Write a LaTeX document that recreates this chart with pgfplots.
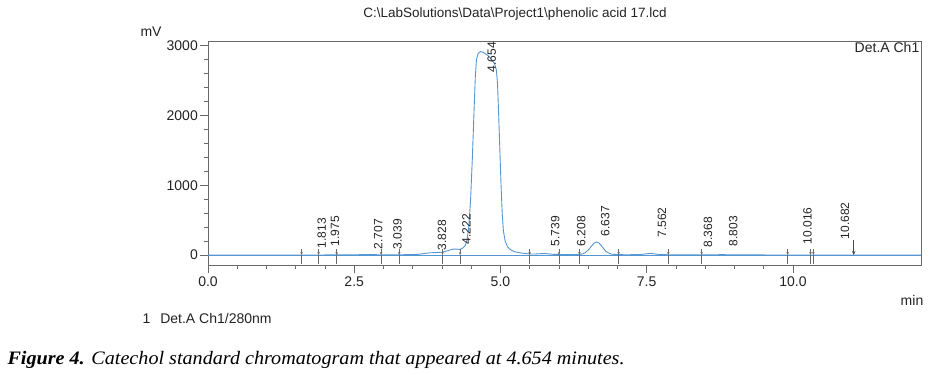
\documentclass[border=0pt]{standalone}
\usepackage{pgfplots}
\pgfplotsset{compat=1.18}
\usepackage{fontspec}
\setmainfont{Liberation Sans}
\newfontfamily\capfont[FakeStretch=1.06]{Liberation Serif}
\usetikzlibrary{arrows.meta}
\definecolor{trace}{RGB}{85,150,210}
\definecolor{axgray}{RGB}{105,105,105}
\definecolor{txt}{RGB}{35,35,35}
\begin{document}
\begin{tikzpicture}
\path[use as bounding box] (0,0) rectangle (929bp,375bp);
\begin{axis}[
  at={(208bp,110bp)}, anchor=south west,
  scale only axis, width=713bp, height=224bp,
  xmin=0, xmax=12.19, ymin=-143, ymax=3066,
  xtick={0,2.5,5,7.5,10}, minor x tick num=4,
  ytick={0,1000,2000,3000}, minor y tick num=4,
  tick align=outside, xtick pos=bottom, ytick pos=left,
  major tick length=8bp, minor tick length=4bp,
  axis line style={draw=axgray, line width=0.7bp},
  every tick/.style={axgray, line width=0.6bp},
  tick label style={font=\fontsize{14bp}{16bp}\selectfont, text=txt},
  /pgf/number format/assume math mode=true,
  x tick label style={/pgf/number format/.cd, fixed, fixed zerofill, precision=1, /tikz/.cd},
  y tick label style={/pgf/number format/.cd, fixed, 1000 sep={}, /tikz/.cd, inner sep=2bp},
  scaled ticks=false,
  clip=false,
]
% baseline
\addplot[trace, line width=0.7bp] coordinates {(0,0) (12.19,0)};
% chromatogram trace
\addplot[trace, line width=0.9bp] coordinates {
(0,0) (1.5,0) (1.8,0) (2.0,1) (2.5,2) (2.6,5) (2.7,8) (2.8,7) (2.9,4) (3.0,3)
(3.2,3) (3.4,5) (3.6,10) (3.7,22) (3.8,32) (3.9,35) (4.0,40) (4.05,50) (4.1,62)
(4.15,75) (4.2,85) (4.25,85) (4.3,80) (4.35,95) (4.4,140) (4.43,220) (4.46,420)
(4.49,800) (4.52,1400) (4.55,2100) (4.57,2550) (4.59,2800) (4.62,2890) (4.66,2915)
(4.70,2905) (4.75,2880) (4.80,2850) (4.85,2800) (4.90,2740) (4.93,2650) (4.95,2450)
(4.97,2000) (4.99,1500) (5.01,1000) (5.03,600) (5.05,350) (5.08,200) (5.12,120)
(5.17,75) (5.25,45) (5.35,30) (5.5,15) (5.6,15) (5.7,20) (5.75,22) (5.8,18) (5.9,10)
(6.0,8) (6.2,5) (6.35,8) (6.4,15) (6.45,35) (6.5,70) (6.55,120) (6.6,170) (6.64,185)
(6.68,175) (6.72,140) (6.76,95) (6.8,55) (6.85,28) (6.9,12) (7.0,5) (7.2,4) (7.4,8)
(7.5,18) (7.56,22) (7.62,18) (7.7,8) (7.9,3) (8.5,3) (8.8,5) (9.0,3) (9.5,1) (10,0) (12.19,0)
};
% peak boundary markers
\addplot[quiver={u=0,v=-85}, draw=axgray, line width=0.5bp, -{Stealth[length=3bp,width=2.5bp]}] coordinates {
(1.60,85) (1.89,85) (2.20,85) (2.96,85) (3.27,85) (4.01,85) (4.31,85) (5.50,85) (6.00,85)
(6.35,85) (7.02,85) (7.87,85) (8.44,85) (9.91,85) (10.30,85) (10.35,85)
};
\addplot[quiver={u=0,v=-125}, draw=axgray, line width=0.5bp] coordinates {
(1.60,0) (1.89,0) (2.20,0) (2.96,0) (3.27,0) (4.01,0) (4.31,0) (5.50,0) (6.00,0)
(6.35,0) (7.02,0) (7.87,0) (8.44,0) (9.91,0) (10.30,0) (10.35,0)
};
\addplot[quiver={u=0,v=-215}, draw=axgray!70!black, line width=0.6bp, -{Stealth[length=4bp,width=3.5bp]}] coordinates {(11.04,215)};
% peak labels
\begin{scope}[every node/.style={rotate=90, anchor=west, inner sep=0.5bp, font=\fontsize{12bp}{14bp}\selectfont, text=txt}]
\node at (axis cs:1.945,90) {1.813};
\node at (axis cs:2.17,115) {1.975};
\node at (axis cs:2.91,72) {2.707};
\node at (axis cs:3.24,72) {3.039};
\node at (axis cs:4.00,60) {3.828};
\node at (axis cs:4.42,143) {4.222};
\node at (axis cs:4.85,2607) {4.654};
\node at (axis cs:5.935,119) {5.739};
\node at (axis cs:6.38,119) {6.208};
\node at (axis cs:6.79,258) {6.637};
\node at (axis cs:7.76,243) {7.562};
\node at (axis cs:8.55,100) {8.368};
\node at (axis cs:8.98,115) {8.803};
\node at (axis cs:10.25,143) {10.016};
\node at (axis cs:10.89,215) {10.682};
\end{scope}
\node[anchor=north east, inner sep=1.5bp, font=\fontsize{14bp}{16bp}\selectfont, text=txt] at (rel axis cs:1,1) {Det.A Ch1};
\end{axis}
\node[font=\fontsize{13.5bp}{16bp}\selectfont, text=txt] at (515bp,361bp) {C:\textbackslash LabSolutions\textbackslash Data\textbackslash Project1\textbackslash phenolic acid 17.lcd};
\node[font=\fontsize{14bp}{16bp}\selectfont, text=txt] at (151bp,343bp) {mV};
\node[font=\fontsize{14bp}{16bp}\selectfont, text=txt] at (912bp,75bp) {min};
\node[anchor=west, font=\fontsize{14bp}{16bp}\selectfont, text=txt] at (139bp,57bp) {1\hspace{10bp}Det.A Ch1/280nm};
\node[anchor=west, font=\capfont\fontsize{19bp}{22bp}\selectfont, text=black] at (4bp,15bp) {\textit{\textbf{Figure 4.} Catechol standard chromatogram that appeared at 4.654 minutes.}};
\end{tikzpicture}
\end{document}
